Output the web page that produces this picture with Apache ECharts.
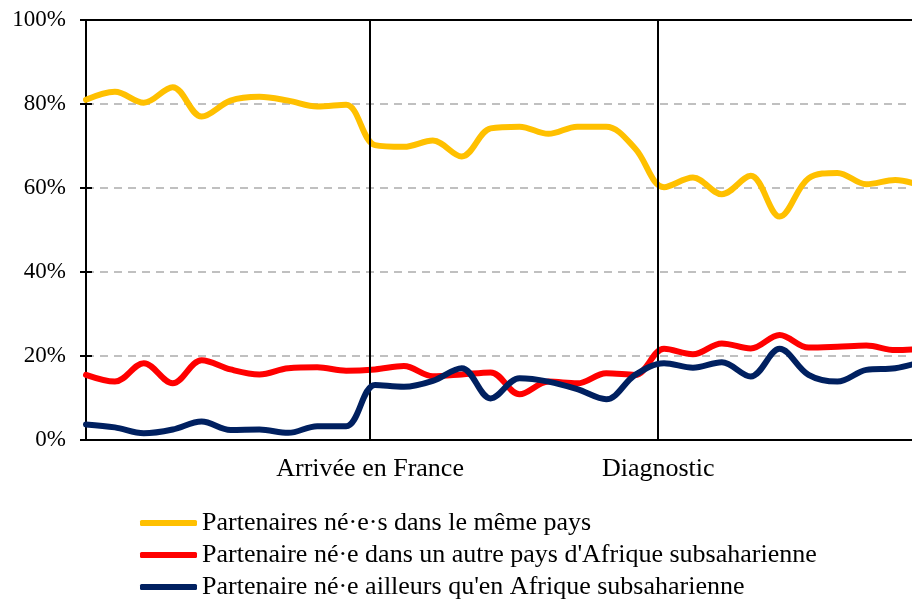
<!DOCTYPE html>
<html>
<head>
<meta charset="utf-8">
<script src="https://cdn.jsdelivr.net/npm/echarts@6/dist/echarts.min.js"></script>
<style>
    html, body { margin: 0; padding: 0; background: #fff; }
    #chart { width: 912px; height: 601px; }
</style>
</head>
<body>
<div id="chart"></div>
<script>
// valeurs (en %), un point par pas de temps
var pointIndex = [0, 1, 2, 3, 4, 5, 6, 7, 8, 9, 10, 11, 12, 13, 14, 15, 16, 17, 18, 19, 20, 21, 22, 23, 24, 25, 26, 27, 28, 29];
var memePays = [81, 82.9, 80.3, 84, 77, 80.8, 81.7, 80.8, 79.4, 79.8, 70.2, 69.8, 71.3, 67.5, 74.2, 74.6, 72.9, 74.6, 74.6, 69.4,
    60.2, 62.5, 58.5, 62.9, 53.2, 62.3, 63.6, 60.9, 61.9, 60.3];
var autreAfrique = [15.5, 13.9, 18.3, 13.5, 19, 16.8, 15.6, 17.1, 17.3, 16.5, 16.8, 17.6, 15.2, 15.6, 16.1, 10.9, 13.9, 13.5, 15.9, 15.5,
    21.7, 20.4, 23, 21.8, 25, 22, 22.2, 22.5, 21.4, 21.8];
var ailleurs = [3.7, 3, 1.6, 2.5, 4.4, 2.4, 2.5, 1.7, 3.3, 3.3, 13.1, 12.7, 14.1, 17.1, 9.9, 14.7, 13.9, 12.1, 9.7, 15.5,
    18.3, 17.2, 18.5, 15.1, 21.7, 15.5, 13.9, 16.7, 17.1, 18.8];
var seriesNames = [
    "Partenaires né·e·s dans le même pays",
    "Partenaire né·e dans un autre pays d'Afrique subsaharienne",
    "Partenaire né·e ailleurs qu'en Afrique subsaharienne"
];
var seriesColors = ["#FFC000", "#FF0000", "#002060"];
// événements sur l'axe du temps
var eventPos = [9.83, 19.8];
var eventLabels = ["Arrivée en France", "Diagnostic"];
var xMax = 28.58;
var yTicks = [0, 20, 40, 60, 80, 100];

var font = "'Liberation Serif', 'Times New Roman', serif";

function toPairs(values) {
    return values.map(function (v, i) {
        return [pointIndex[i], v];
    });
}

var chart = echarts.init(document.getElementById("chart"));

var allSeries = [memePays, autreAfrique, ailleurs].map(function (values, k) {
    return {
        name: seriesNames[k],
        type: "line",
        data: toPairs(values),
        smooth: 0.35,
        symbol: "none",
        clip: true,
        lineStyle: {width: 6, color: seriesColors[k], cap: "round"},
        itemStyle: {color: seriesColors[k]},
        z: 3 + k
    };
});

// lignes verticales des événements
allSeries[0].markLine = {
    silent: true,
    symbol: "none",
    animation: false,
    lineStyle: {color: "#000", width: 2, type: "solid"},
    label: {
        show: true,
        position: "start",
        distance: 16,
        color: "#000",
        fontFamily: font,
        fontSize: 26,
        formatter: function (p) {
            return eventLabels[eventPos.indexOf(p.value)];
        }
    },
    data: eventPos.map(function (v) {
        return {xAxis: v};
    })
};

var option = {
    animation: false,
    backgroundColor: "#fff",
    textStyle: {fontFamily: font},
    grid: {left: 86, top: 20, right: 0, bottom: 161},
    legend: {
        orient: "vertical",
        left: 140,
        top: 510,
        padding: 0,
        itemWidth: 57,
        itemHeight: 6,
        itemGap: 6,
        icon: "roundRect",
        textStyle: {fontFamily: font, fontSize: 26, lineHeight: 26, color: "#000"},
        data: seriesNames
    },
    xAxis: [{
        type: "value",
        min: 0,
        max: xMax,
        axisLine: {show: true, onZero: false, lineStyle: {color: "#000", width: 2}},
        axisTick: {show: false},
        axisLabel: {show: false},
        splitLine: {show: false}
    }, {
        type: "value",
        position: "top",
        min: 0,
        max: xMax,
        axisLine: {show: true, onZero: false, lineStyle: {color: "#000", width: 2}},
        axisTick: {show: false},
        axisLabel: {show: false},
        splitLine: {show: false}
    }],
    yAxis: [{
        type: "value",
        min: yTicks[0],
        max: yTicks[yTicks.length - 1],
        interval: 20,
        axisLine: {show: true, lineStyle: {color: "#000", width: 2}},
        axisTick: {show: true, length: 6, lineStyle: {color: "#000", width: 2}},
        axisLabel: {
            formatter: "{value}%",
            color: "#000",
            fontFamily: font,
            fontSize: 23,
            margin: 20
        },
        splitLine: {
            show: true,
            lineStyle: {color: "#c0c0c0", width: 2, type: [8, 6]}
        }
    }, {
        type: "value",
        position: "left",
        min: yTicks[0],
        max: yTicks[yTicks.length - 1],
        interval: 20,
        axisLine: {show: false},
        axisTick: {show: true, inside: true, length: 6, lineStyle: {color: "#000", width: 2}},
        axisLabel: {show: false},
        splitLine: {show: false}
    }],
    series: allSeries
};

chart.setOption(option);
</script>
</body>
</html>
